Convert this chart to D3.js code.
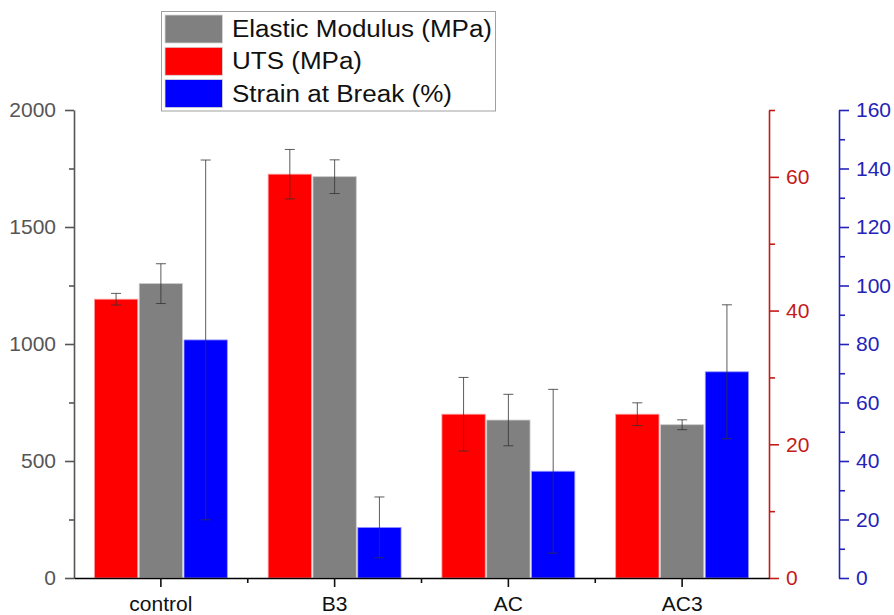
<!DOCTYPE html>
<html>
<head>
<meta charset="utf-8">
<script src="https://cdn.jsdelivr.net/npm/d3@7"></script>
<style>
  body { margin: 0; background: #fff; }
  text { font-family: "Liberation Sans", Arial, sans-serif; }
</style>
</head>
<body>
<svg id="chart" width="894" height="615"></svg>
<script>
// values
var categories = ["control", "B3", "AC", "AC3"];
var utsMean = [41.7, 60.4, 24.5, 24.5];
var utsErr = [0.87, 3.7, 5.5, 1.7];
var modMean = [1258, 1715, 675, 655];
var modErr = [85, 72, 110, 21];
var strainMean = [81.4, 17.3, 36.5, 70.5];
var strainErr = [61.5, 10.4, 28, 22.9];

var leftTicks = [0, 500, 1000, 1500, 2000];
var leftMinor = [250, 750, 1250, 1750];
var redTicks = [0, 20, 40, 60];
var redMinor = [10, 30, 50, 70];
var blueTicks = [0, 20, 40, 60, 80, 100, 120, 140, 160];
var blueMinor = [10, 30, 50, 70, 90, 110, 130, 150];

var legendNames = ["Elastic Modulus (MPa)", "UTS (MPa)", "Strain at Break (%)"];

var plot = {left: 74, right: 769, top: 110, bottom: 578};
var redCol = "#c41a1a", blueCol = "#2323b8", greyCol = "#555";

var svg = d3.select("#chart");

var yMod = d3.scaleLinear().domain([0, 2000]).range([plot.bottom, plot.top]);
var yUts = d3.scaleLinear().domain([0, 70]).range([plot.bottom, plot.top]);
var yStrain = d3.scaleLinear().domain([0, 160]).range([plot.bottom, plot.top]);

var x0 = d3.scaleBand().domain(categories).range([plot.left, plot.right]).padding(0);
var groupW = 134.4;
var off = (x0.bandwidth() - groupW) / 2;
var x1 = d3.scaleBand().domain(["uts", "mod", "strain"]).range([off, off + groupW]);

// series table built from the arrays
var series = [
  {key: "uts", mean: utsMean, err: utsErr, y: yUts, fill: "#ff0000", edge: "#ff9a9a"},
  {key: "mod", mean: modMean, err: modErr, y: yMod, fill: "#808080", edge: "#c8c8c8"},
  {key: "strain", mean: strainMean, err: strainErr, y: yStrain, fill: "#0000ff", edge: "#9a9aff"}
];

// bars
series.forEach(function(s) {
  var g = svg.append("g");
  g.selectAll("rect")
    .data(categories)
    .enter().append("rect")
    .attr("x", function(d) { return x0(d) + x1(s.key) + 0.75; })
    .attr("width", x1.bandwidth() - 1.5)
    .attr("y", function(d, i) { return s.y(s.mean[i]); })
    .attr("height", function(d, i) { return plot.bottom - s.y(s.mean[i]); })
    .attr("fill", s.fill)
    .attr("stroke", s.edge)
    .attr("stroke-width", 0.8);
});

// error bars
series.forEach(function(s) {
  var g = svg.append("g").attr("stroke", "#333").attr("stroke-width", 1).attr("stroke-opacity", 0.8);
  categories.forEach(function(d, i) {
    var cx = x0(d) + x1(s.key) + x1.bandwidth() / 2;
    var hi = s.y(s.mean[i] + s.err[i]), lo = s.y(s.mean[i] - s.err[i]);
    g.append("line").attr("x1", cx).attr("x2", cx).attr("y1", hi).attr("y2", lo);
    g.append("line").attr("x1", cx - 5).attr("x2", cx + 5).attr("y1", hi).attr("y2", hi);
    g.append("line").attr("x1", cx - 5).attr("x2", cx + 5).attr("y1", lo).attr("y2", lo);
  });
});

function styleAxis(g, col) {
  g.selectAll("path").attr("stroke", col).attr("stroke-width", 1.6);
  g.selectAll("line").attr("stroke", col).attr("stroke-width", 1.6);
  g.selectAll("text").attr("fill", col).style("font-size", "21px")
    .style("font-family", "'Liberation Sans', Arial, sans-serif");
}

// left axis
var gl = svg.append("g").attr("transform", "translate(" + plot.left + ",0)");
gl.call(d3.axisLeft(yMod).tickValues(leftTicks).tickFormat(d3.format("d"))
  .tickSize(9).tickPadding(9).tickSizeOuter(0));
gl.append("g").call(d3.axisLeft(yMod).tickValues(leftMinor).tickSize(5).tickFormat("").tickSizeOuter(0))
  .select("path").remove();
styleAxis(gl, greyCol);

// red right axis
var gr = svg.append("g").attr("transform", "translate(" + plot.right + ",0)");
gr.call(d3.axisRight(yUts).tickValues(redTicks).tickSize(10).tickPadding(7).tickSizeOuter(0));
gr.append("g").call(d3.axisRight(yUts).tickValues(redMinor).tickSize(6).tickFormat("").tickSizeOuter(0))
  .select("path").remove();
styleAxis(gr, redCol);

// blue right axis
var gb = svg.append("g").attr("transform", "translate(839,0)");
gb.call(d3.axisRight(yStrain).tickValues(blueTicks).tickSize(10).tickPadding(7).tickSizeOuter(0));
gb.append("g").call(d3.axisRight(yStrain).tickValues(blueMinor).tickSize(6).tickFormat("").tickSizeOuter(0))
  .select("path").remove();
styleAxis(gb, blueCol);

// bottom axis
var gx = svg.append("g").attr("transform", "translate(0," + plot.bottom + ")");
gx.call(d3.axisBottom(x0).tickSize(9).tickPadding(9).tickSizeOuter(0));
var bounds = categories.slice(1).map(function(d) { return x0(d); });
gx.selectAll(".minor").data(bounds).enter().append("line")
  .attr("class", "minor")
  .attr("x1", function(d) { return d; }).attr("x2", function(d) { return d; })
  .attr("y1", 0).attr("y2", 5);
styleAxis(gx, "#111");
gx.select("path").attr("stroke", "#000");
gx.selectAll("text").attr("fill", "#111");

// legend
var lg = svg.append("g");
lg.append("rect").attr("x", 161.5).attr("y", 11.5).attr("width", 334).attr("height", 99.5)
  .attr("fill", "#fff").attr("stroke", "#a0a0a0").attr("stroke-width", 1);
var legendFill = ["#808080", "#ff0000", "#0000ff"];
var legendLen = [260, 130, 220];
legendNames.forEach(function(name, i) {
  var yy = 15 + i * 32.3;
  lg.append("rect").attr("x", 165).attr("y", yy).attr("width", 57.5).attr("height", 28)
    .attr("fill", legendFill[i]).attr("stroke", "#d8d8d8").attr("stroke-width", 0.8);
  lg.append("text").attr("x", 232).attr("y", yy + 22)
    .attr("textLength", legendLen[i]).attr("lengthAdjust", "spacingAndGlyphs")
    .style("font-size", "23px").attr("fill", "#111").text(name);
});
</script>
</body>
</html>
